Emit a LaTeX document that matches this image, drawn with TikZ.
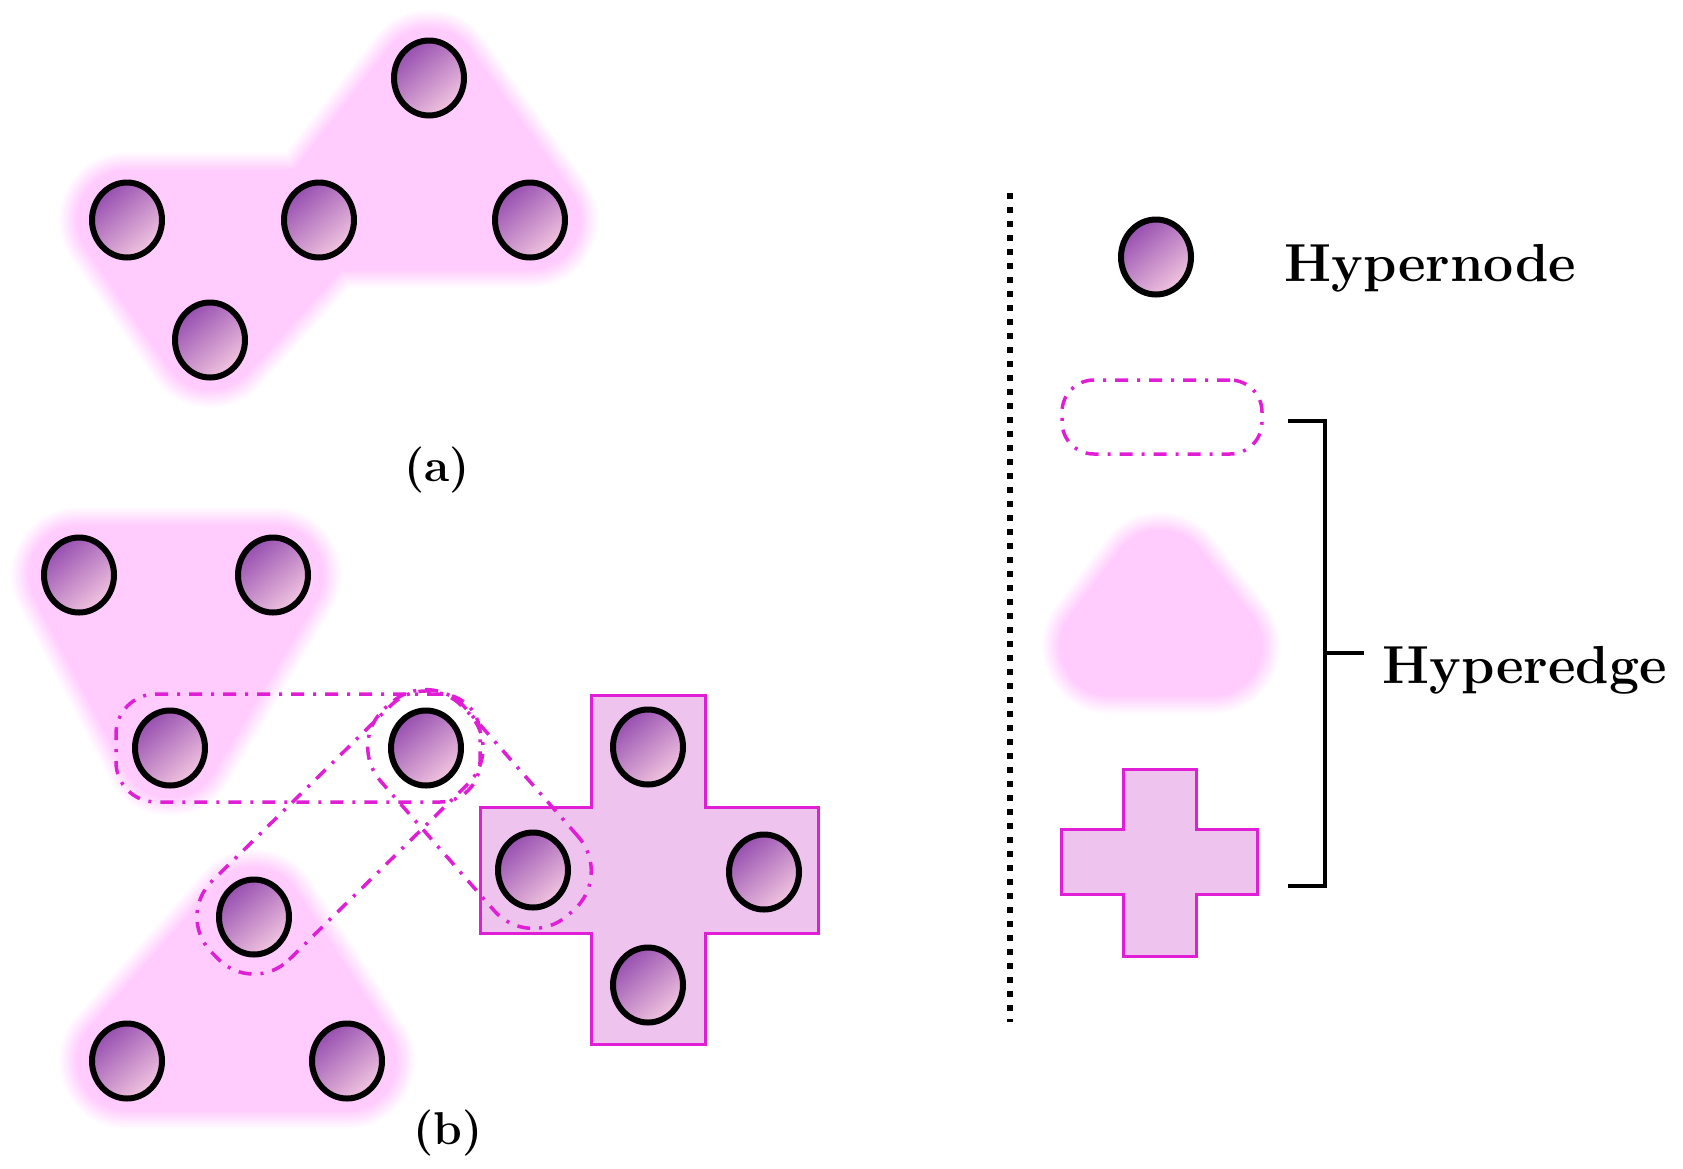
\documentclass[tikz,border=0pt]{standalone}
\usetikzlibrary{shapes.geometric,calc}
\definecolor{blobc}{RGB}{255,204,253}
\definecolor{ndark}{RGB}{150,78,176}
\definecolor{nlight}{RGB}{242,198,224}
\definecolor{mag}{RGB}{224,30,214}
\definecolor{crossfill}{RGB}{238,196,238}
\pgfdeclarelayer{bg}
\pgfdeclarelayer{mid}
\pgfsetlayers{bg,mid,main}
\begin{document}
\begin{tikzpicture}[x=1pt,y=-1pt,
  hn/.style={ellipse, draw=black, line width=6pt, minimum width=70pt, minimum height=75pt, inner sep=0pt,
    top color=ndark, bottom color=nlight, shading angle=40},
  hedge/.style={draw=mag, line width=3.5pt, dash pattern=on 13pt off 9pt on 3pt off 9pt,
    rounded corners=44pt, inner sep=0pt, outer sep=0pt, minimum height=108pt},
  lbl/.style={font=\bfseries\fontsize{53.5}{60}\selectfont, inner sep=0pt},
  sublbl/.style={font=\bfseries\fontsize{46}{54}\selectfont, inner sep=0pt},
  crossst/.style={draw=mag, fill=crossfill, line width=3pt},
  brk/.style={line width=4.5pt},
  dotln/.style={line width=6pt, dash pattern=on 6pt off 8pt},
]
\useasboundingbox (0,0) rectangle (1683,1168);

% (a) hypernodes
\node[hn] (a1) at (429,78) {};
\node[hn] (a2) at (127,220) {};
\node[hn] (a3) at (319,220) {};
\node[hn] (a4) at (530,220) {};
\node[hn] (a5) at (210,340) {};

% (b) hypernodes
\node[hn] (b1) at (79,575) {};
\node[hn] (b2) at (273,575) {};
\node[hn] (b3) at (170,748) {};
\node[hn] (b4) at (426,748) {};
\node[hn] (b5) at (648,747) {};
\node[hn] (b6) at (533,870) {};
\node[hn] (b7) at (764,872) {};
\node[hn] (b8) at (648,985) {};
\node[hn] (b9) at (254,917) {};
\node[hn] (b10) at (127,1061) {};
\node[hn] (b11) at (347,1061) {};

% legend
\node[hn] (l1) at (1156,257) {};
\node[lbl, anchor=base west] (t1) at (1284,281) {Hypernode};
\node[lbl, anchor=base west] (t2) at (1382,683) {Hyperedge};
\node[sublbl, anchor=base] (ta) at (437,481) {(a)};
\node[sublbl, anchor=base] (tb) at (448,1144) {(b)};

\coordinate (lt1) at (1160,580);
\coordinate (lt2) at (1110,646);
\coordinate (lt3) at (1212,646);

% blurred hyperedges
\begin{pgfonlayer}{bg}
\foreach \i in {0,...,11} {
  \pgfmathsetmacro{\w}{136-3.4*\i}
  \pgfmathsetmacro{\c}{min(100,6+9*\i)}
  \filldraw[draw=blobc!\c, fill=blobc!\c, line width=\w pt, line join=round]
    (a2.center)--(a3.center)--(a5.center)--cycle
    (a3.center)--(a1.center)--(a4.center)--cycle
    (b1.center)--(b2.center)--(b3.center)--cycle
    (b9.center)--(b10.center)--(b11.center)--cycle
    (lt1)--(lt2)--(lt3)--cycle;
}
\end{pgfonlayer}

\begin{pgfonlayer}{mid}
% crosses
\draw[crossst] (480,807) -- (591,807) -- (591,695) -- (705,695) -- (705,807) -- (818,807)
  -- (818,933) -- (705,933) -- (705,1044) -- (591,1044) -- (591,933) -- (480,933) -- cycle;
\draw[crossst] (1061,829) -- (1123,829) -- (1123,769) -- (1196,769) -- (1196,829) -- (1257,829)
  -- (1257,894) -- (1196,894) -- (1196,956) -- (1123,956) -- (1123,894) -- (1061,894) -- cycle;
% dash-dot hyperedges
\path let \p1=($(b4.center)-(b3.center)$), \n1={atan2(\y1,\x1)}, \n2={veclen(\x1,\y1)} in
  node[hedge, rotate=\n1, minimum width={\n2+108}, rounded corners=40pt] (e1) at ($(b3.center)!0.5!(b4.center)$) {};
\path let \p1=($(b9.center)-(b4.center)$), \n1={atan2(\y1,\x1)}, \n2={veclen(\x1,\y1)} in
  node[hedge, rotate=\n1, minimum width={\n2+110}, minimum height=110pt, rounded corners=50pt] (e2) at ($(b4.center)!0.5!(b9.center)$) {};
\path let \p1=($(b6.center)-(b4.center)$), \n1={atan2(\y1,\x1)}, \n2={veclen(\x1,\y1)} in
  node[hedge, rotate=\n1, minimum width={\n2+114}, minimum height=112pt, rounded corners=52pt] (e3) at ($(b4.center)!0.5!(b6.center)$) {};
\node[hedge, minimum width=200pt, minimum height=74pt, rounded corners=32pt] (l2) at (1162,417) {};
\end{pgfonlayer}

% dotted separator
\coordinate (d1) at (1010,193);
\coordinate (d2) at (1010,1022);
\draw[dotln] (d1) -- (d2);

% bracket
\coordinate (k1) at (1288,421);
\coordinate (k2) at (1325,421);
\coordinate (k3) at (1325,886);
\coordinate (k4) at (1288,886);
\coordinate (k5) at (1325,653);
\coordinate (k6) at (1364,653);
\draw[brk] (k1) -- (k2) -- (k3) -- (k4);
\draw[brk] (k5) -- (k6);
\end{tikzpicture}
\end{document}
